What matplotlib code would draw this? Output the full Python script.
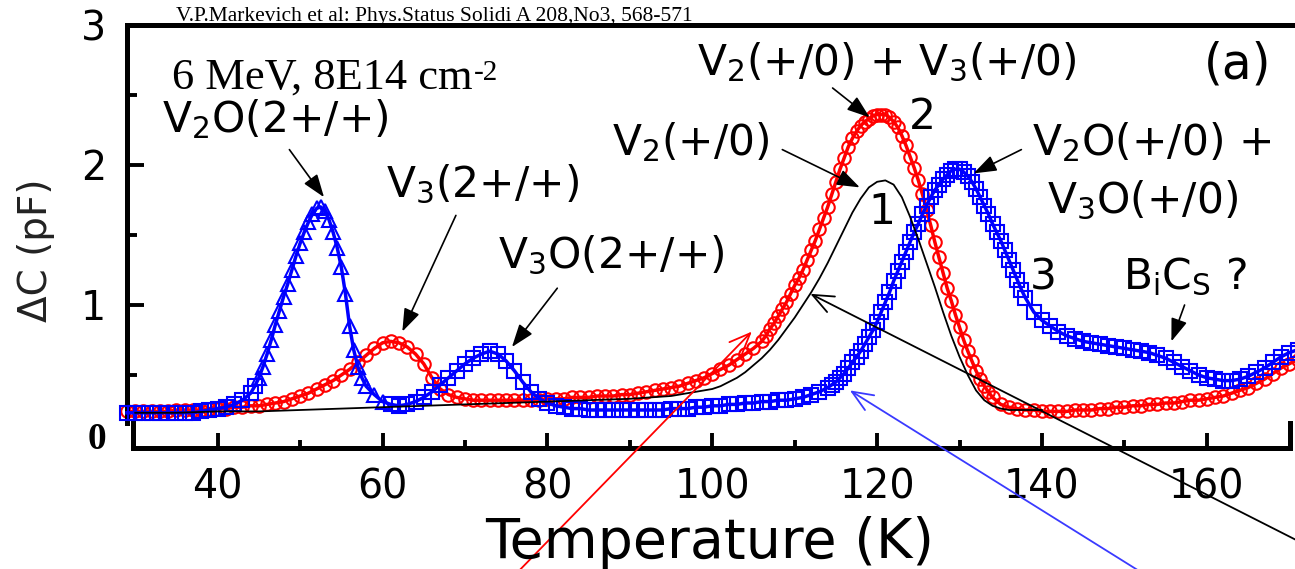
import numpy as np
import matplotlib
matplotlib.use('Agg')
import matplotlib.pyplot as plt

plt.rcParams['font.family'] = ['DejaVu Sans']
plt.rcParams['mathtext.fontset'] = 'dejavusans'

# curve 2 (red circles), dC in pF vs T in K
redT = np.r_[np.arange(29, 106, 1), np.arange(106, 134.5, 0.5), np.arange(135, 172, 1)]
redC = [0.24,
        0.24, 0.24, 0.24, 0.24, 0.24, 0.25, 0.25, 0.25, 0.25, 0.26,
        0.26, 0.26, 0.27, 0.27, 0.28, 0.28, 0.29, 0.30, 0.31, 0.33,
        0.35, 0.37, 0.40, 0.43, 0.46, 0.50, 0.54, 0.59, 0.64, 0.69,
        0.73, 0.74, 0.73, 0.70, 0.65, 0.58, 0.48, 0.40, 0.36, 0.34,
        0.33, 0.32, 0.32, 0.32, 0.32, 0.32, 0.32, 0.32, 0.32, 0.32,
        0.33, 0.33, 0.33, 0.34, 0.34, 0.34, 0.35, 0.35, 0.35, 0.36,
        0.36, 0.37, 0.38, 0.39, 0.40, 0.41, 0.42, 0.44, 0.46, 0.48,
        0.51, 0.54, 0.57, 0.61, 0.65, 0.69,
        0.74, 0.78, 0.83, 0.87, 0.92, 0.97, 1.02, 1.08, 1.14, 1.19,
        1.25, 1.32, 1.39, 1.46, 1.54, 1.62, 1.70, 1.79, 1.88, 1.97,
        2.05, 2.13, 2.19, 2.24, 2.28, 2.31, 2.33, 2.35, 2.36, 2.36,
        2.36, 2.34, 2.31, 2.27, 2.21, 2.14, 2.06, 1.98, 1.89, 1.79,
        1.68, 1.57, 1.45, 1.34, 1.23, 1.12, 1.03, 0.93, 0.84, 0.75,
        0.67, 0.60, 0.53, 0.47, 0.42, 0.38, 0.34,
        0.29, 0.27, 0.26, 0.25, 0.25, 0.24, 0.24, 0.24, 0.24, 0.25,
        0.25, 0.25, 0.26, 0.26, 0.27, 0.27, 0.28, 0.28, 0.29, 0.29,
        0.30, 0.30, 0.31, 0.32, 0.32, 0.33, 0.34, 0.35, 0.37, 0.39,
        0.41, 0.44, 0.47, 0.51, 0.55, 0.58, 0.61]

# curve 3 (blue)
blueT = np.r_[np.arange(29, 44, 1), np.arange(44, 58.5, 0.5), np.arange(59, 114, 1),
              np.arange(114, 138.5, 0.5), np.arange(139, 172, 1)]
blueC = [0.23,
         0.23, 0.23, 0.23, 0.23, 0.23, 0.23, 0.23, 0.23, 0.24, 0.25, 0.26, 0.27, 0.29, 0.32,
         0.37, 0.42, 0.48, 0.56, 0.65, 0.75, 0.86, 0.96, 1.06, 1.15,
         1.25, 1.35, 1.44, 1.52, 1.59, 1.65, 1.69, 1.70, 1.67, 1.61,
         1.52, 1.41, 1.27, 1.08, 0.85, 0.68, 0.56, 0.48, 0.42,
         0.36, 0.31, 0.29, 0.28, 0.29, 0.31, 0.34, 0.38, 0.43, 0.48,
         0.53, 0.58, 0.62, 0.65, 0.67, 0.65, 0.60, 0.53, 0.45, 0.38,
         0.33, 0.30, 0.28, 0.27, 0.26, 0.26, 0.25, 0.25, 0.25, 0.25,
         0.25, 0.25, 0.25, 0.25, 0.25, 0.25, 0.26, 0.26, 0.26, 0.27,
         0.27, 0.28, 0.28, 0.29, 0.29, 0.30, 0.30, 0.31, 0.31, 0.32,
         0.32, 0.33, 0.34, 0.36, 0.38,
         0.41, 0.43, 0.45, 0.48, 0.51, 0.55, 0.59, 0.63, 0.67,
         0.72, 0.77, 0.82, 0.88, 0.95, 1.02, 1.09, 1.17, 1.24, 1.31,
         1.38, 1.45, 1.52, 1.58, 1.65, 1.71, 1.77, 1.82, 1.86, 1.90,
         1.93, 1.96, 1.97, 1.97, 1.95, 1.92, 1.88, 1.83, 1.77, 1.71,
         1.65, 1.58, 1.52, 1.46, 1.39, 1.32, 1.25, 1.18, 1.11, 1.05,
         0.95, 0.89, 0.85, 0.81, 0.78, 0.76, 0.74, 0.73, 0.72, 0.71,
         0.70, 0.69, 0.68, 0.67, 0.66, 0.64, 0.62, 0.59, 0.56, 0.53,
         0.50, 0.48, 0.47, 0.46, 0.46, 0.47, 0.49, 0.52, 0.55, 0.59,
         0.63, 0.66, 0.68]

# curve 1 (black line)
blackT = np.r_[np.arange(30, 100, 5), np.arange(100, 141, 1)]
blackC = [0.23, 0.23, 0.24, 0.24, 0.25, 0.26, 0.27, 0.28, 0.29, 0.30, 0.31, 0.32, 0.33, 0.35,
          0.40, 0.42, 0.45, 0.48, 0.52, 0.57, 0.62, 0.68, 0.75, 0.83,
          0.91, 1.00, 1.09, 1.19, 1.30, 1.42, 1.54, 1.66, 1.76, 1.84,
          1.88, 1.89, 1.86, 1.77, 1.63, 1.47, 1.30, 1.13, 0.95, 0.78,
          0.63, 0.50, 0.39, 0.32, 0.28, 0.26, 0.25, 0.25, 0.25, 0.25,
          0.25]

blueC = np.array(blueC)
assert len(redT) == len(redC) and len(blueT) == len(blueC) and len(blackT) == len(blackC)

# labels: (text, T, dC at baseline, size)
labels = [("V$_2$O(2+/+)", 33.2, 2.235, 30.5),
          ("V$_3$(2+/+)", 60.4, 1.77, 30.5),
          ("V$_3$O(2+/+)", 74.0, 1.26, 30.5),
          ("V$_2$(+/0)", 87.8, 2.07, 30.5),
          ("V$_2$(+/0) + V$_3$(+/0)", 98.2, 2.64, 30.5),
          ("(a)", 159.6, 2.62, 35),
          ("2", 123.9, 2.26, 30.5),
          ("1", 118.9, 1.58, 30.5),
          ("3", 138.5, 1.11, 30.5),
          ("V$_2$O(+/0) +", 138.75, 2.07, 30.5),
          ("V$_3$O(+/0)", 140.6, 1.66, 30.5),
          ("B$_\\mathrm{i}$C$_\\mathrm{S}$ ?", 149.8, 1.11, 30.5)]

# short arrows: (tail T, tail dC, tip T, tip dC)
arrows = [(48.7, 2.11, 52.9, 1.77),
          (68.9, 1.64, 62.4, 0.81),
          (81.2, 1.12, 75.7, 0.70),
          (108.5, 2.11, 117.9, 1.84),
          (114.6, 2.55, 119.1, 2.34),
          (137.5, 2.11, 131.7, 1.94),
          (157.3, 1.00, 155.7, 0.74)]

fig = plt.figure(figsize=(12.95, 5.69), dpi=100)
ax = fig.add_axes([127/1295, 1-466/569, 1168/1295, 441/569])

ax.plot(redT, redC, '-', color='#ff0000', lw=2.5, zorder=2, clip_on=False)
ax.plot(redT, redC, 'o', mfc='none', mec='#ff0000', ms=9, mew=1.5, zorder=2, clip_on=False)

tri = (blueT >= 45) & (blueT <= 60)
ax.plot(blueT, blueC, '-', color='#0000ff', lw=2.5, zorder=3, clip_on=False)
ax.plot(blueT[~tri], blueC[~tri], 's', mfc='none', mec='#0000ff', ms=9.5, mew=1.5, zorder=3, clip_on=False)
ax.plot(blueT[tri], blueC[tri], '^', mfc='none', mec='#0000ff', ms=9.5, mew=1.5, zorder=3, clip_on=False)

ax.plot(blackT, blackC, '-', color='k', lw=1.3, zorder=4)

ax.set_xlim(29.0, 29.0 + 1168/8.243)
ax.set_ylim(-0.15, 3)

for s in ['left', 'top', 'bottom']:
    ax.spines[s].set_linewidth(3.6)
ax.spines['right'].set_visible(False)
ax.spines['left'].set_bounds(0.16, 3)
ax.spines['bottom'].set_position(('data', -0.02))
ax.spines['bottom'].set_bounds(29.7, 170.1)
for xe in [29.7, 170.1]:
    ax.plot([xe, xe], [-0.02, 0.16], color='k', lw=3.6, clip_on=False, solid_capstyle='projecting')

ax.set_xticks([40, 60, 80, 100, 120, 140, 160])
ax.set_xticks([50, 70, 90, 110, 130, 150], minor=True)
ax.set_yticks([1, 2, 3])
ax.set_yticks([0.5, 1.5, 2.5], minor=True)
ax.tick_params(axis='x', which='major', direction='in', length=10.5, width=2.8, labelsize=28.5, pad=14)
ax.tick_params(axis='x', which='minor', direction='in', length=5.5, width=2.8)
ax.tick_params(axis='y', which='major', direction='in', length=12, width=2.8, labelsize=28.5, pad=15)
ax.tick_params(axis='y', which='minor', direction='in', length=7, width=2.8)

ax.text(25.3, 0.04, '0', family='Liberation Serif', weight='bold', size=27,
        ha='center', va='center', clip_on=False)

for txt, x, y, sz in labels:
    ax.text(x, y, txt, size=sz, ha='left', va='baseline')

for x0, y0, x1, y1 in arrows:
    ax.annotate('', xy=(x1, y1), xytext=(x0, y0),
                arrowprops=dict(arrowstyle='-|>,head_length=0.7,head_width=0.25', color='k',
                                lw=1.2, mutation_scale=20, shrinkA=0, shrinkB=0))

dose = ax.text(34.4, 2.545, '6 MeV, 8E14 cm', family='Liberation Serif', size=32,
               ha='left', va='baseline')
ax.annotate('-2', xy=(1, 1), xycoords=dose, xytext=(1, -2), textcoords='offset points',
            family='Liberation Serif', size=21, ha='left', va='top')

# long pointer arrows drawn over the figure
pointers = [((104.8, 0.81), (511, -10), '#ff0000'),
            ((111.9, 1.08), (1310, 22), 'k'),
            ((116.7, 0.39), (1152, -10), '#3a3aff')]
for tip, tail, c in pointers:
    ax.annotate('', xy=tip, xytext=tail, textcoords='figure pixels', annotation_clip=False,
                arrowprops=dict(arrowstyle='->,head_length=0.6,head_width=0.25', color=c,
                                lw=1.3, mutation_scale=25, shrinkA=0, shrinkB=0), zorder=6)

fig.text(36/1295, 1-250/569, '\u0394C (pF)', rotation=90, size=28, ha='center', va='center', color='#222222')
fig.text(710/1295, 11/569, 'Temperature (K)', size=40, ha='center', va='baseline')
fig.text(176/1295, 1-21/569, 'V.P.Markevich et al: Phys.Status Solidi A 208,No3, 568-571',
         family='Liberation Serif', size=15.5, va='baseline')

fig.savefig('out.png', dpi=100)
